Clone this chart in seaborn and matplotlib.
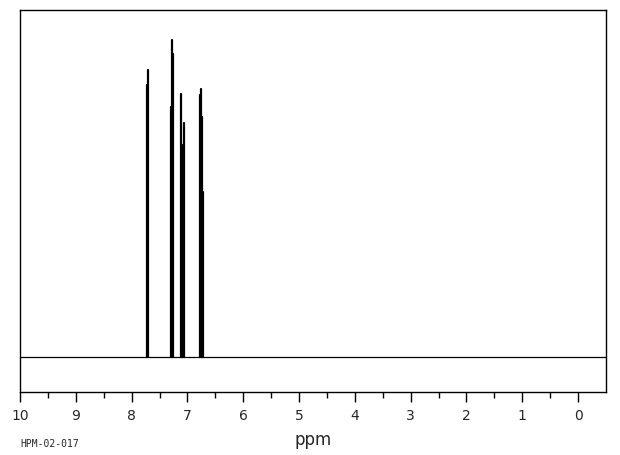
import numpy as np
import pandas as pd
import matplotlib
matplotlib.use("Agg")
import matplotlib.pyplot as plt
import seaborn as sns

# Peak list (ppm, relative height)
peak_ppm = [7.722, 7.705, 7.288, 7.272, 7.259, 7.110, 7.098, 7.085, 7.061,
            6.770, 6.757, 6.743, 6.725]
peak_height = [272, 287, 250, 317, 303, 263, 212, 205, 234,
               262, 268, 240, 165]

x_ticks = [10, 9, 8, 7, 6, 5, 4, 3, 2, 1, 0]
sample_id = "HPM-02-017"

sns.set_style("white")
plt.rcParams['font.family'] = ['DejaVu Sans']

# one vertical stick per peak
rows = []
for i, (p, h) in enumerate(zip(peak_ppm, peak_height)):
    rows.append({'ppm': p, 'intensity': 0.0, 'peak': i})
    rows.append({'ppm': p, 'intensity': h, 'peak': i})
sticks = pd.DataFrame(rows)

fig = plt.figure(figsize=(6.2, 4.55), dpi=100)
ax = fig.add_axes([20 / 620, 1 - 392 / 455, 586 / 620, 382 / 455])

ax.axhline(0, color='black', linewidth=0.9)
sns.lineplot(data=sticks, x='ppm', y='intensity', units='peak', sort=False,
             estimator=None, color='black', linewidth=1.6, ax=ax)

ax.set_xlim(10, -0.5)
ax.set_ylim(-35, 347)
ax.set_xticks(x_ticks)
ax.set_xticklabels([str(t) for t in x_ticks])
ax.set_xticks(np.arange(9.5, -0.5, -1.0), minor=True)
ax.set_yticks([])
ax.set_ylabel('')
ax.tick_params(axis='x', which='major', direction='out', length=7, width=1,
               color='black', labelsize=10, pad=5, bottom=True)
ax.tick_params(axis='x', which='minor', direction='out', length=4, width=1,
               color='black', bottom=True)
ax.set_xlabel('ppm', fontsize=12, labelpad=6)
for s in ax.spines.values():
    s.set_color('black')
    s.set_linewidth(1)

fig.text(20 / 620, 1 - 444 / 455, sample_id, fontsize=7,
         family='DejaVu Sans Mono', va='center', ha='left')

fig.savefig('out.png', dpi=100, facecolor='white')
